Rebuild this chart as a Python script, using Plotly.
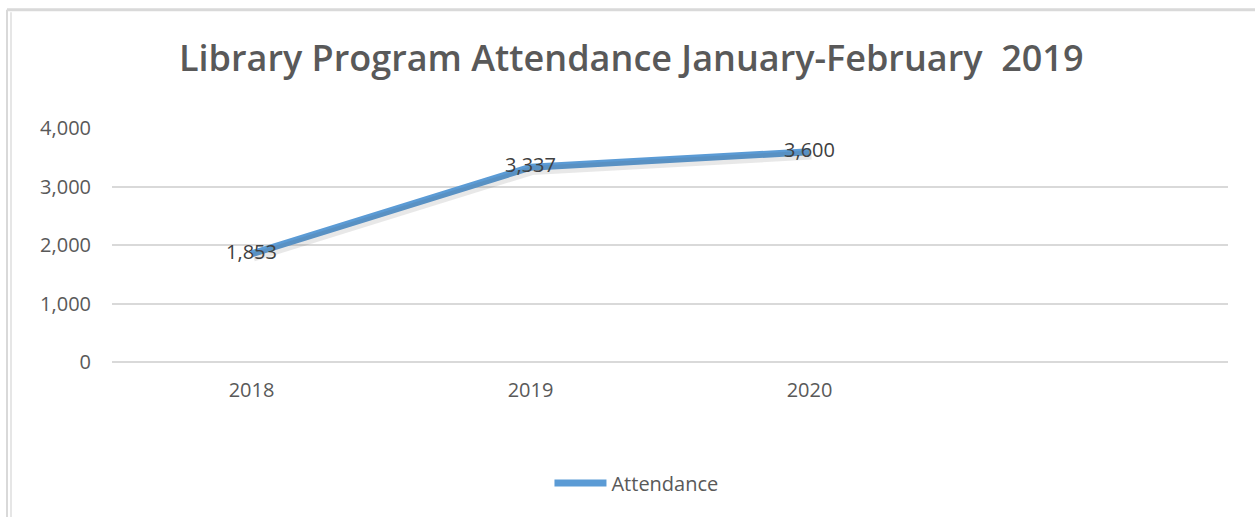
import plotly.graph_objects as go

years = ["2018", "2019", "2020"]
attendance = [1853, 3337, 3600]
labels = ["1,853", "3,337", "3,600"]
y_ticks = [0, 1000, 2000, 3000, 4000]
y_tick_text = ["0", "1,000", "2,000", "3,000", "4,000"]

fig = go.Figure()
# soft drop shadow under the line (same data, drawn on slightly offset overlay axes)
fig.add_trace(go.Scatter(
    x=years, y=attendance, mode="lines", showlegend=False, hoverinfo="skip",
    line=dict(color="rgba(80,80,80,0.13)", width=9),
    xaxis="x2", yaxis="y2",
))
fig.add_trace(go.Scatter(
    x=years, y=attendance, mode="lines+text", name="Attendance",
    line=dict(color="#5B9BD5", width=7),
    text=labels, textposition="middle center",
    textfont=dict(family="Open Sans", size=20, color="#404040"),
    cliponaxis=False,
))

fig.update_layout(
    width=1255, height=517,
    margin=dict(l=112, r=27, t=128, b=155),
    paper_bgcolor="white", plot_bgcolor="white",
    title=dict(text="Library Program Attendance January-February  2019",
               x=0.503, xanchor="center", y=0.888, yanchor="middle",
               font=dict(family="Open Sans", size=36, color="#595959", weight=600)),
    xaxis=dict(type="category", range=[-0.5, 3.5], showgrid=False,
               showline=False, zeroline=False, ticks="", ticklabelstandoff=14,
               tickfont=dict(family="Open Sans", size=20, color="#595959")),
    yaxis=dict(range=[0, 4008], tickvals=y_ticks, ticktext=y_tick_text,
               showgrid=True, gridcolor="#D9D9D9", gridwidth=1.5,
               zeroline=True, zerolinecolor="#D9D9D9", zerolinewidth=1.5,
               showline=False, ticks="", ticklabelstandoff=20,
               tickfont=dict(family="Open Sans", size=20, color="#595959")),
    xaxis2=dict(type="category", range=[-0.507, 3.493], overlaying="x", visible=False),
    yaxis2=dict(range=[55, 4063], overlaying="y", visible=False),
    showlegend=True,
    legend=dict(orientation="h", x=0.392, xanchor="left", y=-0.517, yanchor="middle",
                font=dict(family="Open Sans", size=20, color="#595959"),
                itemwidth=52),
    shapes=[
        dict(type="line", xref="paper", yref="paper", x0=-0.0941, x1=-0.0941, y0=1.505, y1=-0.67,
             line=dict(color="#D9D9D9", width=2)),
        dict(type="line", xref="paper", yref="paper", x0=-0.0905, x1=-0.0905, y0=1.495, y1=-0.67,
             line=dict(color="#E6E6E6", width=2)),
        dict(type="line", xref="paper", yref="paper", x0=-0.0941, x1=1.03, y0=1.505, y1=1.505,
             line=dict(color="#D9D9D9", width=3)),
    ],
)
fig.write_html("out.html", config={"displayModeBar": False},
               post_script="document.body.style.margin='0px';")
